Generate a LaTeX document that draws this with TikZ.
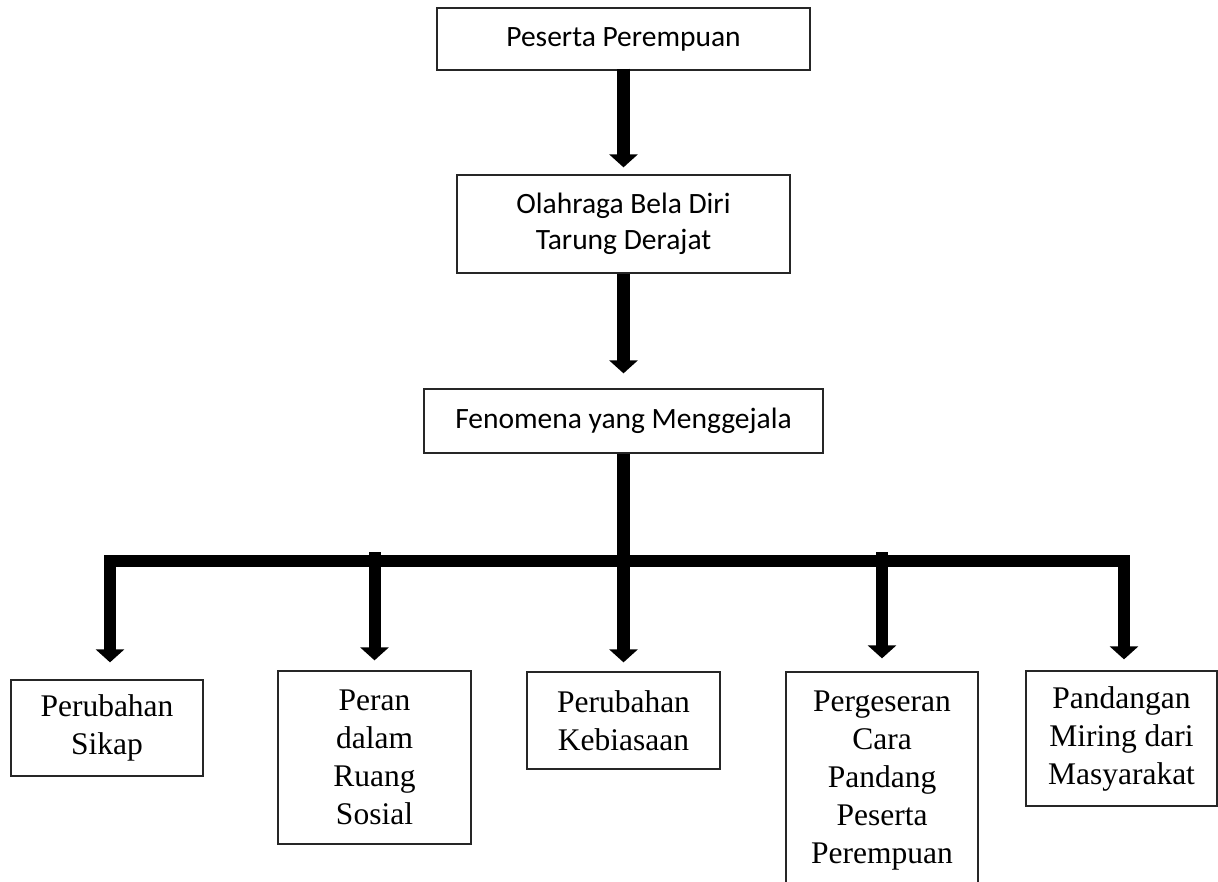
\documentclass[tikz,border=0pt]{standalone}
\usepackage{fontspec}
\setmainfont{Liberation Serif}
\newfontfamily\calibri{Carlito}
\usetikzlibrary{arrows.meta,positioning}

\begin{document}
\begin{tikzpicture}[x=1pt, y=-1pt, every node/.style={
    rectangle,
    draw=black!85,
    line width=1.3pt,
    align=center,
    inner sep=0pt,
  },
  toptext/.style={font=\calibri\fontsize{29.5}{36}\selectfont},
  bottext/.style={font=\fontsize{31.5}{38}\selectfont},
  fat/.style={line width=13pt, -{Triangle[width=28pt,length=13pt]}}]

  \useasboundingbox (0,0) rectangle (1218,881);

  \node[toptext, minimum width=373pt, minimum height=62pt] (n0) at (623.5,39) {Peserta Perempuan};
  \node[toptext, below of=n0, node distance=185pt, minimum width=333pt, minimum height=98pt] (n1) {Olahraga Bela Diri\\Tarung Derajat};
  \node[toptext, below of=n1, node distance=197pt, minimum width=399pt, minimum height=64pt] (n2) {Fenomena yang Menggejala};

  \draw[fat, shorten >=7pt, shorten <=-2pt] (n0) -- (n1);
  \draw[fat, shorten >=15pt] (n1) -- (n2);

  \node[bottext, minimum width=192pt, minimum height=96pt] (n3) at (107,728) {Perubahan\\Sikap};
  \node[bottext, minimum width=193pt, minimum height=173pt] (n4) at (374.5,757.5) {Peran\\dalam\\Ruang\\Sosial};
  \node[bottext, minimum width=193pt, minimum height=97pt] (n5) at (623.5,720.5) {Perubahan\\Kebiasaan};
  \node[bottext, minimum width=192pt, minimum height=218pt] (n6) at (882,781) {Pergeseran\\Cara\\Pandang\\Peserta\\Perempuan};
  \node[bottext, minimum width=191pt, minimum height=135pt] (n7) at (1121.5,738.5) {Pandangan\\Miring dari\\Masyarakat};

  \coordinate (b0) at (110,561);
  \coordinate (b1) at (1124,561);

  \draw[fat, shorten >=9pt] (n2) -- (n5);
  \draw[fat, line width=12pt, shorten >=17pt] (b1) -- (b0) -- (b0 |- n3.north);
  \draw[fat, line width=12pt, shorten >=11pt] (b0) -- (b1) -- (b1 |- n7.north);
  \draw[fat, line width=12pt, shorten >=10pt, shorten <=-9pt] (b0 -| n4) -- (n4);
  \draw[fat, line width=12pt, shorten >=13pt, shorten <=-9pt] (b0 -| n6) -- (n6);

\end{tikzpicture}
\end{document}
